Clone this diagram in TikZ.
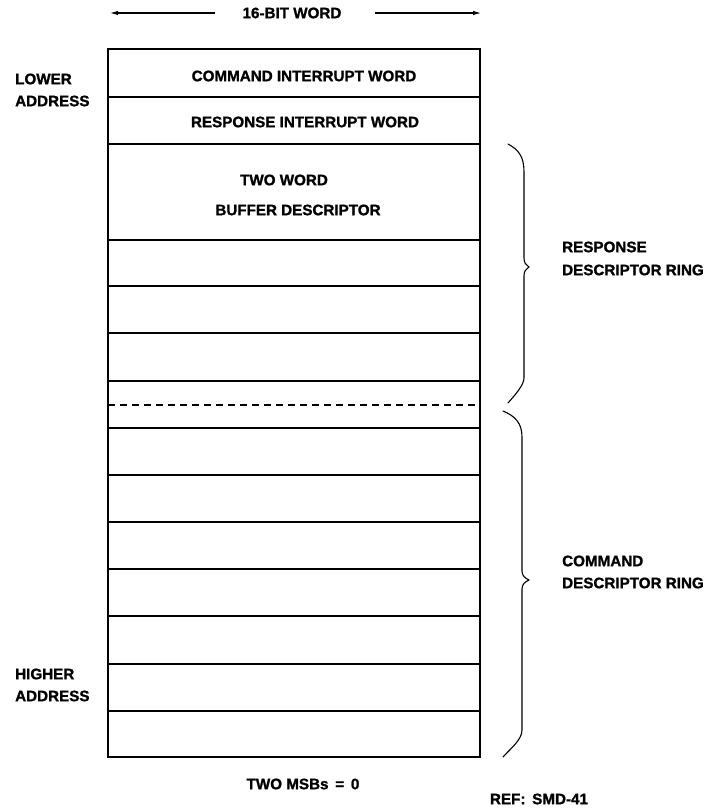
\documentclass[tikz,border=0pt]{standalone}
\usepackage{fontspec}
\setmainfont{Liberation Sans}[FakeBold=1.2]
\usetikzlibrary{arrows.meta}
\begin{document}
\begin{tikzpicture}[x=1pt,y=-1pt,
  lbl/.style={inner sep=0pt, font=\fontsize{15.2}{20}\selectfont\bfseries},
  side/.style={lbl, anchor=west},
  frame/.style={line width=2.6pt, line join=miter},
  rowline/.style={line width=1.2pt},
  ringsplit/.style={line width=1.1pt, dash pattern=on 7pt off 5pt},
  brace/.style={line width=1.1pt, line cap=round, line join=round},
  widtharrow/.style={line width=1.1pt, -{Latex[length=8pt,width=4.5pt]}}]
\useasboundingbox (0,0) rectangle (707,808);

% word width indicator
\node[lbl] (title) at (292,13) {16-BIT WORD};
\coordinate (wl) at (110,13);
\coordinate (wr) at (481,13);
\draw[widtharrow] ([xshift=-27pt]title.west) -- (wl);
\draw[widtharrow] ([xshift=33pt]title.east) -- (wr);

% memory block
\coordinate (tl) at (108,49);
\coordinate (br) at (480,757);
\foreach \y in {97,144,240,286,333,381,428,475,522,569,616,664,711}
  \draw[rowline] (108,\y) -- (480,\y);
\draw[ringsplit] (108,405) -- (480,405);
\draw[frame] (tl) rectangle (br);

% contents
\node[lbl] (ciw) at (304,76) {COMMAND INTERRUPT WORD};
\node[lbl] (riw) at (305,122) {RESPONSE INTERRUPT WORD};
\node[lbl] (bd1) at (284,180) {TWO WORD};
\node[lbl] (bd2) at (298,210) {BUFFER DESCRIPTOR};

% address labels
\node[side] (lo1) at (15,79) {LOWER};
\node[side] (lo2) at (15,101) {ADDRESS};
\node[side] (hi1) at (15,674) {HIGHER};
\node[side] (hi2) at (15,696) {ADDRESS};

% response ring brace
\draw[brace] (508,144) .. controls (519,150) and (524,157) .. (524,172)
  -- (524,258) .. controls (524,263) and (526,265) .. (529,267)
  .. controls (526,269) and (524,271) .. (524,276)
  -- (524,378) .. controls (524,385) and (515,395) .. (508,403);
\node[side] (rr1) at (562,247) {RESPONSE};
\node[side] (rr2) at (562,270) {DESCRIPTOR RING};

% command ring brace
\draw[brace] (503,411) .. controls (515,416) and (522,423) .. (522,437)
  -- (522,571) .. controls (522,576) and (525,578) .. (529,580)
  .. controls (525,582) and (522,584) .. (522,589)
  -- (522,730) .. controls (522,740) and (510,749) .. (503,757);
\node[side] (cr1) at (562,561) {COMMAND};
\node[side] (cr2) at (562,583) {DESCRIPTOR RING};

% notes
\node[lbl] (msb) at (303,784) {TWO MSBs \,=\, 0};
\node[lbl] (ref) at (539,799) {REF:\, SMD-41};
\end{tikzpicture}
\end{document}
